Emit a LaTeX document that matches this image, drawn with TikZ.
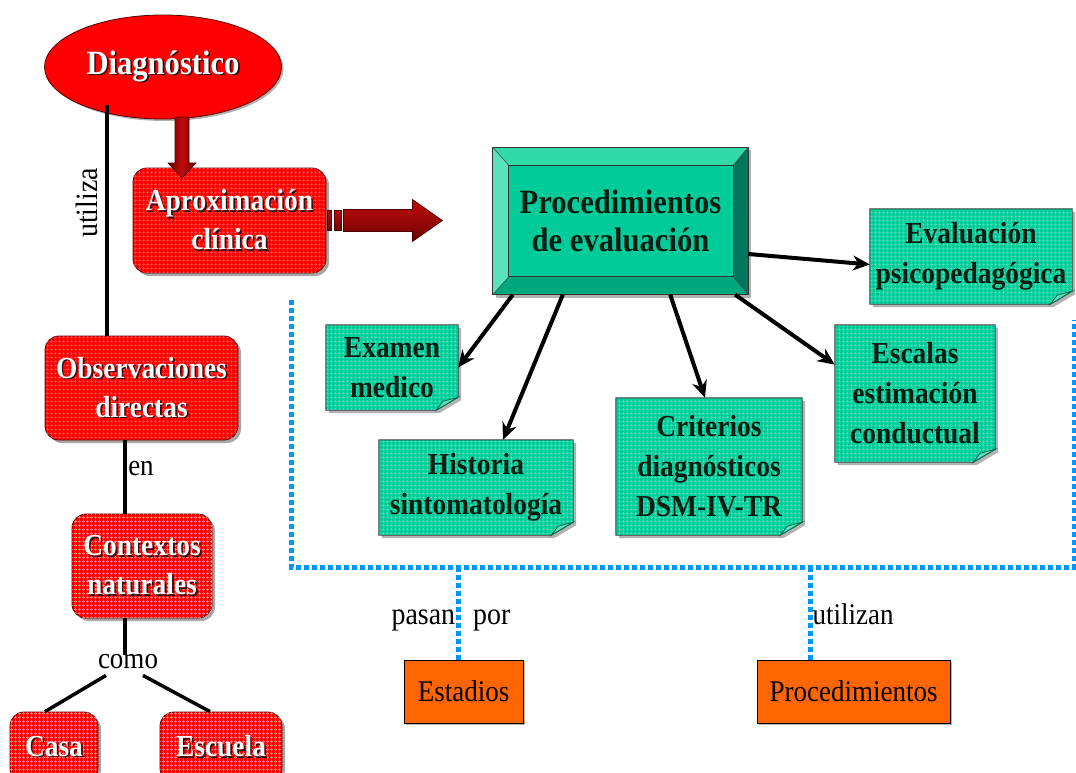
\documentclass[tikz,border=0pt]{standalone}
\usepackage{fontspec}
\setmainfont{Liberation Serif}[FakeStretch=0.9]
\usetikzlibrary{arrows.meta,shapes.geometric,patterns.meta,shadows,backgrounds,calc}

\definecolor{redf}{RGB}{255,0,0}
\definecolor{redgrid}{RGB}{255,80,80}
\definecolor{pinkgrid}{RGB}{255,140,140}
\definecolor{tealf}{RGB}{0,204,153}
\definecolor{tealgrid}{RGB}{80,225,185}
\definecolor{tealtop}{RGB}{50,218,168}
\definecolor{tealleft}{RGB}{90,226,188}
\definecolor{tealright}{RGB}{0,118,90}
\definecolor{tealbot}{RGB}{0,168,125}
\definecolor{tealdark}{RGB}{0,100,75}
\definecolor{orangef}{RGB}{255,102,0}
\definecolor{bluedot}{RGB}{0,150,255}
\definecolor{darktext}{RGB}{8,30,20}
\definecolor{shadowc}{RGB}{40,20,20}
\definecolor{arrdark}{RGB}{110,0,0}
\definecolor{arrmid}{RGB}{190,10,10}

\newcommand\sh[1]{\leavevmode\rlap{\kern1.6pt\raisebox{-1.6pt}{\textcolor{shadowc}{#1}}}#1}

\newcommand\notefill[1]{%
  \fill[black!30] ([shift={(3pt,-3pt)}]#1.north west) -- ([shift={(3pt,-3pt)}]#1.north east)
     -- ([shift={(3pt,10pt)}]#1.south east) -- ([shift={(-19pt,-3pt)}]#1.south east)
     -- ([shift={(3pt,-3pt)}]#1.south west) -- cycle;
  \path[fill=tealf, postaction={pattern={Hatch[angle=0,distance=4pt,line width=0.6pt]}, pattern color=tealgrid}]
     (#1.north west) -- (#1.north east) -- ([yshift=13pt]#1.south east)
     -- ([xshift=-22pt]#1.south east) -- (#1.south west) -- cycle;
  \draw[black!75, line width=0.9pt]
     (#1.north west) -- (#1.north east) -- ([yshift=13pt]#1.south east)
     -- ([xshift=-22pt]#1.south east) -- (#1.south west) -- cycle;
  \filldraw[fill=tealleft, draw=tealdark, line width=0.8pt] ([xshift=-22pt]#1.south east)
     -- ([shift={(-15pt,9pt)}]#1.south east) -- ([yshift=13pt]#1.south east) -- cycle;
}

\tikzset{
  redbox/.style={rectangle, rounded corners=14pt, draw=red!35!black, line width=0.8pt,
    fill=redf, text=white, font=\bfseries\fontsize{30.5}{39}\selectfont, align=center, inner sep=0pt,
    drop shadow={shadow xshift=3pt, shadow yshift=-3pt, opacity=0.35, fill=black},
    postaction={pattern={Hatch[angle=0,distance=4pt,line width=0.6pt]}, pattern color=redgrid}},
  pinkbox/.style={redbox, postaction={pattern={Hatch[angle=0,distance=4pt,line width=0.7pt]}, pattern color=pinkgrid}},
  notebox/.style={rectangle, inner sep=0pt, text=darktext, align=center,
    font=\bfseries\fontsize{30.5}{40}\selectfont},
  orangebox/.style={rectangle, draw=black, line width=0.8pt, fill=orangef, inner sep=0pt,
    font=\fontsize{30}{36}\selectfont, text=black,
    drop shadow={shadow xshift=2pt, shadow yshift=-2pt, opacity=0.3, fill=black}},
  lbl/.style={inner sep=0pt, font=\fontsize{30}{36}\selectfont, text=black},
  plain/.style={line width=3.5pt, black},
  conn/.style={line width=4pt, black, -{Stealth[length=17pt,width=15pt]}},
  bluedash/.style={line width=5pt, bluedot, dash pattern=on 5pt off 3pt},
  fatdown/.style={draw=arrdark!70!black, line width=0.7pt, left color=arrdark, right color=arrdark, middle color=arrmid},
  fatright/.style={draw=arrdark!70!black, line width=0.7pt, top color=arrmid, bottom color=arrdark, middle color=arrmid!80!black},
}

\begin{document}
\begin{tikzpicture}[x=1pt,y=-1pt]
\path[use as bounding box] (0,0) rectangle (1076,772);
\clip (0,0) rectangle (1076,772);

% ---- left column ----
\node[ellipse, draw=red!35!black, line width=0.8pt, fill=redf, minimum width=237pt, minimum height=104pt,
  inner sep=0pt, text=white, font=\bfseries\fontsize{34}{40}\selectfont,
  drop shadow={shadow xshift=2pt, shadow yshift=-2pt, opacity=0.3, fill=black}] (diag) at (163,67) {\sh{Diagnóstico}};

\node[redbox, minimum width=193pt, minimum height=105pt] (aprox) at (229.5,220.5) {\sh{Aproximación}\\\sh{clínica}};
\node[redbox, minimum width=193pt, minimum height=104pt] (obs) at (141.5,388) {\sh{Observaciones}\\\sh{directas}};
\node[pinkbox, minimum width=140pt, minimum height=104pt] (ctx) at (142,566) {\sh{Contextos}\\\sh{naturales}};
\node[pinkbox, minimum width=88pt, minimum height=70pt] (casa) at (54,747) {\sh{Casa}};
\node[pinkbox, minimum width=122pt, minimum height=70pt] (esc2) at (221,747) {\sh{Escuela}};

\coordinate (u1) at (107,105);
\draw[plain] (u1) -- (u1 |- obs.north);
\node[lbl, rotate=90, font=\fontsize{31}{36}\selectfont] (lutil) at (87,203) {utiliza};

\coordinate (e1) at (125,0);
\draw[plain] (e1 |- obs.south) -- (e1 |- ctx.north);
\node[lbl] (len) at (141,469) {en};
\node[lbl] (como) at (128,662) {como};
\draw[plain] (e1 |- ctx.south) -- (e1 |- como.north);
\draw[plain] ([xshift=-22pt,yshift=-6pt]como.south) -- ([xshift=-9pt]casa.north);
\draw[plain] ([xshift=15pt,yshift=-6pt]como.south) -- ([xshift=-11pt]esc2.north);

% fat arrow down
\coordinate (da) at (182,117);
\draw[fatdown] ($(da)+(-7,0)$) -- ($(da)+(7,0)$) -- ($(da)+(7,46)$) -- ($(da)+(14,46)$)
  -- ($(da)+(0,61)$) -- ($(da)+(-14,46)$) -- ($(da)+(-7,46)$) -- cycle;

% fat arrow right
\coordinate (ra) at (aprox.east);
\draw[fatright] ($(ra)+(1,-10)$) rectangle ($(ra)+(5,10)$);
\draw[fatright] ($(ra)+(8,-10)$) rectangle ($(ra)+(15,10)$);
\draw[fatright] ($(ra)+(17,-11)$) -- ($(ra)+(86,-11)$) -- ($(ra)+(86,-21)$) -- ($(ra)+(116,0)$)
  -- ($(ra)+(86,21)$) -- ($(ra)+(86,11)$) -- ($(ra)+(17,11)$) -- cycle;

% ---- procedimientos de evaluacion ----
\node[inner sep=0pt, minimum width=255pt, minimum height=147pt, align=center, text=darktext,
  font=\bfseries\fontsize{34}{38}\selectfont] (proc) at (620.5,221) {Procedimientos\\de evaluación};

% ---- notes ----
\node[notebox, minimum width=202pt, minimum height=95pt] (eval) at (971,256.5) {Evaluación\\psicopedagógica};
\node[notebox, minimum width=132pt, minimum height=85pt] (exam) at (392,367.5) {Examen\\medico};
\node[notebox, minimum width=194pt, minimum height=95pt] (hist) at (476,487.5) {Historia\\sintomatología};
\node[notebox, minimum width=186pt, minimum height=137pt] (crit) at (709,466.5) {Criterios\\diagnósticos\\DSM-IV-TR};
\node[notebox, minimum width=160pt, minimum height=137pt] (escal) at (915,393.5) {Escalas\\estimación\\conductual};

\begin{scope}[on background layer]
  % bevel box
  \fill[black!30] ([shift={(3pt,-3pt)}]proc.north west) rectangle ([shift={(3pt,-3pt)}]proc.south east);
  \coordinate (po1) at (proc.north west); \coordinate (po2) at (proc.north east);
  \coordinate (po3) at (proc.south east); \coordinate (po4) at (proc.south west);
  \coordinate (pi1) at ([shift={(16pt,-18pt)}]proc.north west);
  \coordinate (pi2) at ([shift={(-15pt,-18pt)}]proc.north east);
  \coordinate (pi3) at ([shift={(-15pt,18pt)}]proc.south east);
  \coordinate (pi4) at ([shift={(16pt,18pt)}]proc.south west);
  \fill[tealtop] (po1) -- (po2) -- (pi2) -- (pi1) -- cycle;
  \fill[tealleft] (po1) -- (pi1) -- (pi4) -- (po4) -- cycle;
  \fill[tealright] (po2) -- (po3) -- (pi3) -- (pi2) -- cycle;
  \fill[tealbot] (po4) -- (pi4) -- (pi3) -- (po3) -- cycle;
  \fill[tealf] (pi1) rectangle (pi3);
  \draw[black!80, line width=1pt] (po1) rectangle (po3);
  \draw[black!80, line width=1pt] (pi1) rectangle (pi3);
  \draw[black!70, line width=0.6pt] (po1) -- (pi1) (po2) -- (pi2) (po3) -- (pi3) (po4) -- (pi4);
  \notefill{eval}
  \notefill{exam}
  \notefill{hist}
  \notefill{crit}
  \notefill{escal}
\end{scope}

% connectors from procedimientos
\draw[conn] ([xshift=20pt]proc.south west) -- (exam.east);
\draw[conn] ([xshift=70pt]proc.south west) -- ([xshift=27pt]hist.north);
\draw[conn] ([xshift=-78pt]proc.south east) -- ([xshift=-4pt]crit.north);
\draw[conn] ([xshift=-13pt]proc.south east) -- ($(escal.north west)!0.29!(escal.south west)$);
\draw[conn] ([yshift=-33pt]proc.east) -- ([yshift=-8pt]eval.west);

% ---- bottom ----
\node[orangebox, minimum width=119pt, minimum height=63pt] (estad) at (463.5,691.5) {Estadios};
\node[orangebox, minimum width=193pt, minimum height=63pt] (proc2) at (853.5,691.5) {Procedimientos};

\coordinate (b1) at (291,300); \coordinate (b2) at (291,567);
\coordinate (b3) at (1074,567); \coordinate (b4) at (1074,320);
\draw[bluedash] (b1) -- (b2) -- (b3) -- (b4);
\coordinate (s1) at ([xshift=-5pt]estad.north);
\coordinate (s2) at ([xshift=-43pt]proc2.north);
\draw[bluedash] (s1 |- b2) -- (s1);
\draw[bluedash] (s2 |- b2) -- (s2);
\node[lbl, anchor=base, font=\fontsize{31}{36}\selectfont] (lpasan) at (451,624) {pasan\hspace{18pt}por};
\node[lbl, anchor=base] (lutilizan) at (853,624) {utilizan};
\end{tikzpicture}
\end{document}
